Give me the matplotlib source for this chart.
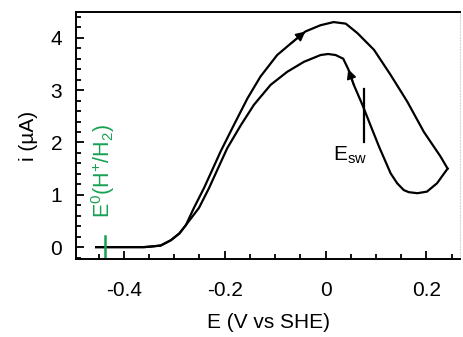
import matplotlib
matplotlib.use("Agg")
import matplotlib.pyplot as plt
from matplotlib.ticker import MultipleLocator

plt.rcParams['font.family'] = ['Liberation Sans', 'DejaVu Sans']

# forward scan (upper branch), E in V vs SHE, i in uA
fwd_E = [-0.455, -0.40, -0.36, -0.347, -0.327, -0.307, -0.290, -0.277, -0.261,
         -0.241, -0.224, -0.208, -0.182, -0.155, -0.129, -0.096, -0.069, -0.040,
         -0.010, 0.016, 0.040, 0.063, 0.096, 0.129, 0.162, 0.195, 0.228, 0.242]
fwd_i = [0.0, 0.0, 0.0, 0.01, 0.03, 0.13, 0.26, 0.42, 0.75,
         1.13, 1.49, 1.83, 2.33, 2.84, 3.26, 3.67, 3.89, 4.12,
         4.24, 4.30, 4.27, 4.09, 3.77, 3.29, 2.78, 2.20, 1.73, 1.50]

# reverse scan (lower branch)
rev_E = [0.242, 0.221, 0.201, 0.182, 0.165, 0.155, 0.142, 0.129, 0.106, 0.089,
         0.073, 0.056, 0.045, 0.035, 0.020, 0.005, -0.010, -0.043, -0.076,
         -0.109, -0.142, -0.168, -0.195, -0.214, -0.231, -0.251, -0.277, -0.290,
         -0.307, -0.327, -0.347, -0.36, -0.40, -0.455]
rev_i = [1.50, 1.22, 1.06, 1.03, 1.05, 1.09, 1.22, 1.41, 1.92, 2.33,
         2.72, 3.10, 3.40, 3.60, 3.67, 3.69, 3.67, 3.54, 3.35,
         3.10, 2.72, 2.33, 1.89, 1.49, 1.13, 0.75, 0.42, 0.26,
         0.13, 0.03, 0.01, 0.0, 0.0, 0.0]

# markers
E0_H = -0.437          # E0(H+/H2)
E_sw = 0.077           # switching potential marker
E_sw_span = (2.01, 3.02)
fwd_arrow = 17         # index of arrow tip on forward branch
rev_arrow = 12         # index of arrow tip on reverse branch

GREEN = '#17a153'
FS = 15

fig = plt.figure(figsize=(4.63, 3.37), dpi=100)
ax = fig.add_axes([0.164, 0.231, 0.830, 0.733])

ax.plot(fwd_E, fwd_i, color='black', lw=1.6, solid_joinstyle='round')
ax.plot(rev_E, rev_i, color='black', lw=1.6, solid_joinstyle='round')

for E, I, k in [(fwd_E, fwd_i, fwd_arrow), (rev_E, rev_i, rev_arrow)]:
    ax.annotate('', xy=(E[k], I[k]), xytext=(E[k - 1], I[k - 1]),
                arrowprops=dict(arrowstyle='-|>', color='black', lw=1.2,
                                mutation_scale=14, shrinkA=0, shrinkB=0))

# switching potential
ax.plot([E_sw, E_sw], E_sw_span, color='black', lw=1.6)
ax.text(0.014, 1.66, r'E$_{\mathregular{sw}}$', fontsize=FS, ha='left',
        va='baseline')

# hydrogen standard potential
ax.plot([E0_H, E0_H], [-0.21, 0.21], color=GREEN, lw=1.8)
ax.text(E0_H - 0.004, 0.55,
        r'E$^{\mathregular{0}}$(H$^{\mathregular{+}}$/H$_{\mathregular{2}}$)',
        color=GREEN, fontsize=15.5, rotation=90, ha='center', va='bottom')

ax.set_xlim(-0.495, 0.267)
ax.set_ylim(-0.23, 4.49)

ax.xaxis.set_major_locator(MultipleLocator(0.2))
ax.xaxis.set_minor_locator(MultipleLocator(0.05))
ax.yaxis.set_major_locator(MultipleLocator(1))
ax.yaxis.set_minor_locator(MultipleLocator(0.2))
ax.xaxis.set_major_formatter(plt.FuncFormatter(lambda v, p: '0' if abs(v) < 1e-9 else '%g' % v))

ax.tick_params(which='both', direction='in', width=1.3, labelsize=FS,
               top=False, right=False)
ax.tick_params(which='major', length=6)
ax.tick_params(which='minor', length=3.5)
ax.tick_params(axis='x', pad=16)
ax.tick_params(axis='y', pad=10)

for s in ['left', 'bottom', 'top']:
    ax.spines[s].set_linewidth(1.4)
ax.spines['right'].set_color('#d8d8d8')
ax.spines['right'].set_linestyle(':')

ax.set_xlabel('E (V vs SHE)', fontsize=FS, labelpad=9)
ax.set_ylabel(u'i (\u00b5A)', fontsize=FS, labelpad=9)

fig.savefig('out.png', dpi=100)
